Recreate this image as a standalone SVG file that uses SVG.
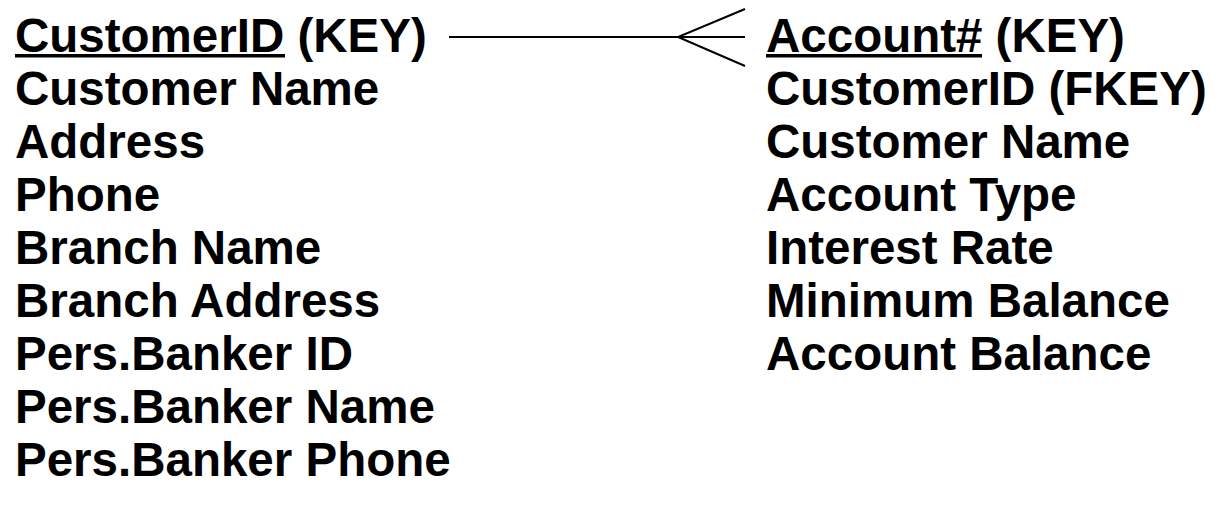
<svg xmlns="http://www.w3.org/2000/svg" width="1215" height="509" viewBox="0 0 1215 509">
<style>
text{font-family:"Liberation Sans",Arial,sans-serif;font-weight:bold;font-size:47.5px;fill:#000}
.ul{fill:#000}
.c{stroke:#000;stroke-width:2;fill:none}
</style>
<rect width="1215" height="509" fill="#fff"/>
<g id="customer">
<text x="15" y="52">CustomerID (KEY)</text>
<rect class="ul" x="15" y="54" width="270" height="3.5"/>
<text x="15" y="105">Customer Name</text>
<text x="15" y="158">Address</text>
<text x="15" y="211">Phone</text>
<text x="15" y="264">Branch Name</text>
<text x="15" y="317">Branch Address</text>
<text x="15" y="370">Pers.Banker ID</text>
<text x="15" y="423">Pers.Banker Name</text>
<text x="15" y="476">Pers.Banker Phone</text>
</g>
<g id="account">
<text x="766" y="52">Account# (KEY)</text>
<rect class="ul" x="766" y="54" width="216" height="3.5"/>
<text x="766" y="105">CustomerID (FKEY)</text>
<text x="766" y="158">Customer Name</text>
<text x="766" y="211">Account Type</text>
<text x="766" y="264">Interest Rate</text>
<text x="766" y="317">Minimum Balance</text>
<text x="766" y="370">Account Balance</text>
</g>
<g id="connectors">
<path class="c" d="M449 37H745M745 9L678 37L745 66"/>
</g>
</svg>
